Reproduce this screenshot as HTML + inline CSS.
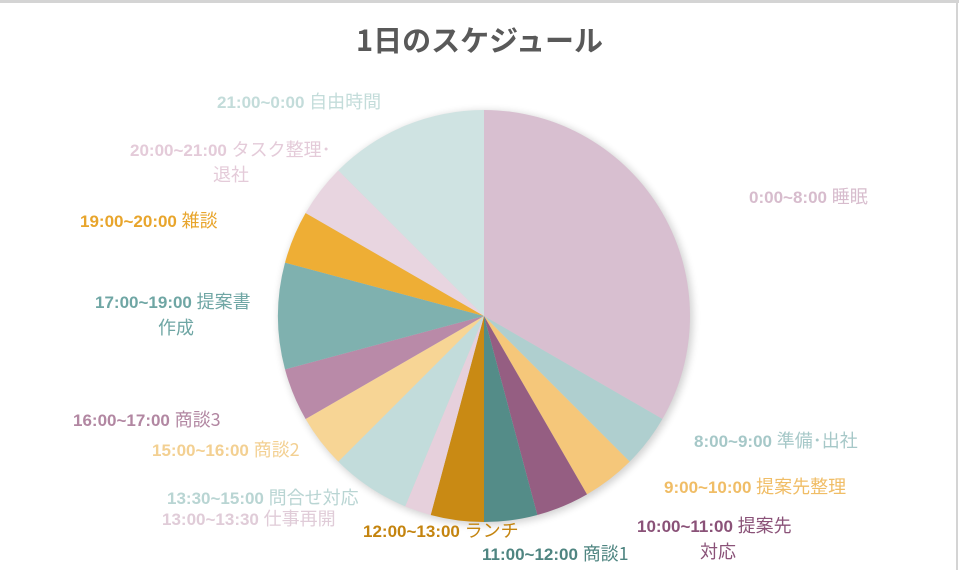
<!DOCTYPE html>
<html><head><meta charset="utf-8"><style>
body{margin:0;width:959px;height:570px;background:#fff;overflow:hidden;position:relative;font-family:"Liberation Sans","Noto Sans CJK JP",sans-serif}
.t{position:absolute;left:0;width:959px;top:18px;text-align:center;font-size:29px;font-weight:bold;color:#595959;font-family:"Noto Sans CJK JP",sans-serif}
.l{position:absolute;font-size:17px;line-height:25px;white-space:nowrap}
.l b{font-weight:bold}
.l span{font-family:"Noto Sans CJK JP",sans-serif;font-weight:normal;font-size:18px}
</style></head><body>
<div style="position:absolute;left:0;top:0;width:959px;height:3px;background:#d4d4d4"></div>
<div style="position:absolute;left:956px;top:0;width:2px;height:570px;background:#d4d4d4"></div>
<div class="t">1日のスケジュール</div>
<svg width="959" height="570" style="position:absolute;left:0;top:0">
<defs><filter id="s" x="-20%" y="-20%" width="140%" height="140%"><feGaussianBlur stdDeviation="4"/></filter></defs>
<circle cx="486" cy="318" r="207" fill="#000" opacity="0.18" filter="url(#s)"/>
<g id="pie"></g></svg>
<div class="l" style="left:217px;top:89px;color:#c3dcda"><b>21:00~0:00</b> <span>自由時間</span></div>
<div class="l" style="left:130px;top:137px;color:#e4cbd9"><b>20:00~21:00</b> <span>タスク整理･</span></div>
<div class="l" style="left:213px;top:162px;color:#e4cbd9"><span>退社</span></div>
<div class="l" style="left:80px;top:208px;color:#e8a52c"><b>19:00~20:00</b> <span>雑談</span></div>
<div class="l" style="left:95px;top:289px;color:#6fa6a4"><b>17:00~19:00</b> <span>提案書</span></div>
<div class="l" style="left:158px;top:315px;color:#6fa6a4"><span>作成</span></div>
<div class="l" style="left:749px;top:184px;color:#d7bccd"><b>0:00~8:00</b> <span>睡眠</span></div>
<div class="l" style="left:694px;top:428px;color:#a6c8c8"><b>8:00~9:00</b> <span>準備･出社</span></div>
<div class="l" style="left:664px;top:474px;color:#f0bd66"><b>9:00~10:00</b> <span>提案先整理</span></div>
<div class="l" style="left:637px;top:513px;color:#8a5278"><b>10:00~11:00</b> <span>提案先</span></div>
<div class="l" style="left:700px;top:539px;color:#8a5278"><span>対応</span></div>
<div class="l" style="left:482px;top:541px;color:#4f8581"><b>11:00~12:00</b> <span>商談1</span></div>
<div class="l" style="left:363px;top:518px;color:#c4840f"><b>12:00~13:00</b> <span>ランチ</span></div>
<div class="l" style="left:162px;top:506px;color:#e0ccd8"><b>13:00~13:30</b> <span>仕事再開</span></div>
<div class="l" style="left:167px;top:485px;color:#b9d5d3"><b>13:30~15:00</b> <span>問合せ対応</span></div>
<div class="l" style="left:152px;top:437px;color:#f3d092"><b>15:00~16:00</b> <span>商談2</span></div>
<div class="l" style="left:73px;top:407px;color:#b287a2"><b>16:00~17:00</b> <span>商談3</span></div>
<script>
var d=[[8,"#d8bfd0"],[1,"#afcfcf"],[1,"#f5c77a"],[1,"#955e82"],[1,"#548c88"],[1,"#c98a14"],[0.5,"#e6d0dc"],[1.5,"#c2dcdb"],[1,"#f7d595"],[1,"#b98aa8"],[2,"#7fb1af"],[1,"#eeae35"],[1,"#e8d5e0"],[3,"#cfe3e2"]];
var cx=484,cy=316,r=206,a=0,g=document.getElementById("pie"),h="";
d.forEach(function(s){var a2=a+s[0]*15;var p=function(x){var t=x*Math.PI/180;return (cx+r*Math.sin(t)).toFixed(2)+","+(cy-r*Math.cos(t)).toFixed(2)};
h+='<path d="M'+cx+','+cy+' L'+p(a)+' A'+r+','+r+' 0 '+(s[0]*15>180?1:0)+',1 '+p(a2)+' Z" fill="'+s[1]+'"/>';a=a2;});
g.innerHTML=h;
</script>
</body></html>
